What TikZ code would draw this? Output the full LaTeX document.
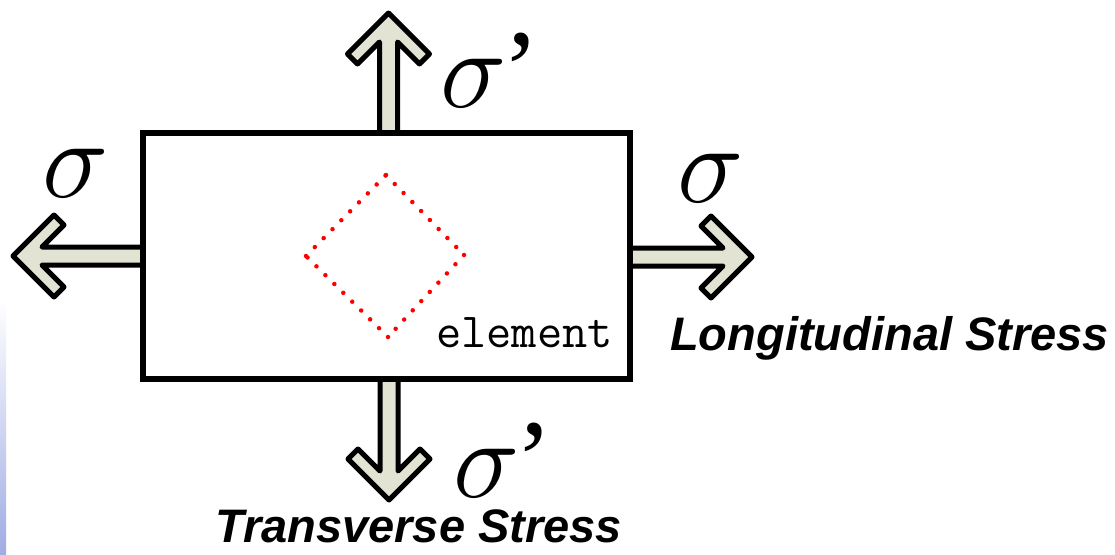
\documentclass[tikz,border=0pt]{standalone}
\usepackage{fontspec}
\setmainfont{Liberation Serif}
\newfontfamily\lsans{Liberation Sans}
\usetikzlibrary{calc}
\definecolor{arrowfill}{RGB}{227,227,211}
\definecolor{stripblue}{RGB}{160,172,228}
\newcommand{\blockarrow}[3]{% #1 base point, #2 rotation, #3 length
  \begin{scope}[shift={(#1)}, rotate=#2]
    \filldraw[arrowsty] (0,9) -- ({#3-29},9) -- ({#3-51},31) -- ({#3-41},41) -- (#3,0)
      -- ({#3-41},-41) -- ({#3-51},-31) -- ({#3-29},-9) -- (0,-9) -- cycle;
  \end{scope}}
\begin{document}
\begin{tikzpicture}[x=1pt,y=-1pt,
  arrowsty/.style={fill=arrowfill, draw=black, line width=5pt, line join=round},
  boxsty/.style={draw=black, line width=5.5pt, minimum width=487pt, minimum height=246pt, inner sep=0pt},
  sig/.style={inner sep=0pt, font=\Huge, scale=4.5},
  caption/.style={inner sep=0pt, font=\lsans\fontsize{47}{50}\selectfont\bfseries\itshape},
  elem/.style={inner sep=0pt, font=\ttfamily\fontsize{49}{52}\selectfont},
  dots/.style={red, line width=4.5pt, line cap=round, dash pattern=on 0pt off 12.57pt}]
\useasboundingbox (0,0) rectangle (1115,554);
\fill[white] (0,0) rectangle (1115,554);
\shade[top color=white, bottom color=stripblue] (0,300) rectangle (6,554);
% block arrows (drawn first, rectangle border covers their bases)
\coordinate (bW) at (143,256);
\coordinate (bE) at (630,257);
\coordinate (bN) at (388.5,133);
\coordinate (bS) at (389,379);
\blockarrow{bW}{180}{130}
\blockarrow{bE}{0}{122}
\blockarrow{bN}{90}{120}
\blockarrow{bS}{-90}{121}
% the body
\node[boxsty] (rect) at (386.5,256) {};
% dotted element
\coordinate (dL) at (306,256);
\coordinate (dT) at (386,175);
\coordinate (dR) at (464,255);
\coordinate (dB) at (388,337);
\draw[dots] (dL) -- (dT);
\draw[dots] (dT) -- (dR);
\draw[dots] (dR) -- (dB);
\draw[dots] (dB) -- (dL);
% labels
\node[sig, anchor=base west] (sW) at (42,197) {$\sigma$};
\node[sig, anchor=base west] (sE) at (677,202) {$\sigma$};
\node[sig, anchor=base west] (sN) at (440,107) {$\sigma$\kern-0.04em’};
\node[sig, anchor=base west] (sS) at (453,497) {$\sigma$\kern-0.04em’};
\node[elem, anchor=base west] (el) at (436,347) {element};
\node[caption, anchor=base west] (lon) at (670,350) {Longitudinal Stress};
\node[caption, anchor=base west] (tra) at (215,542) {Transverse Stress};
\end{tikzpicture}
\end{document}
